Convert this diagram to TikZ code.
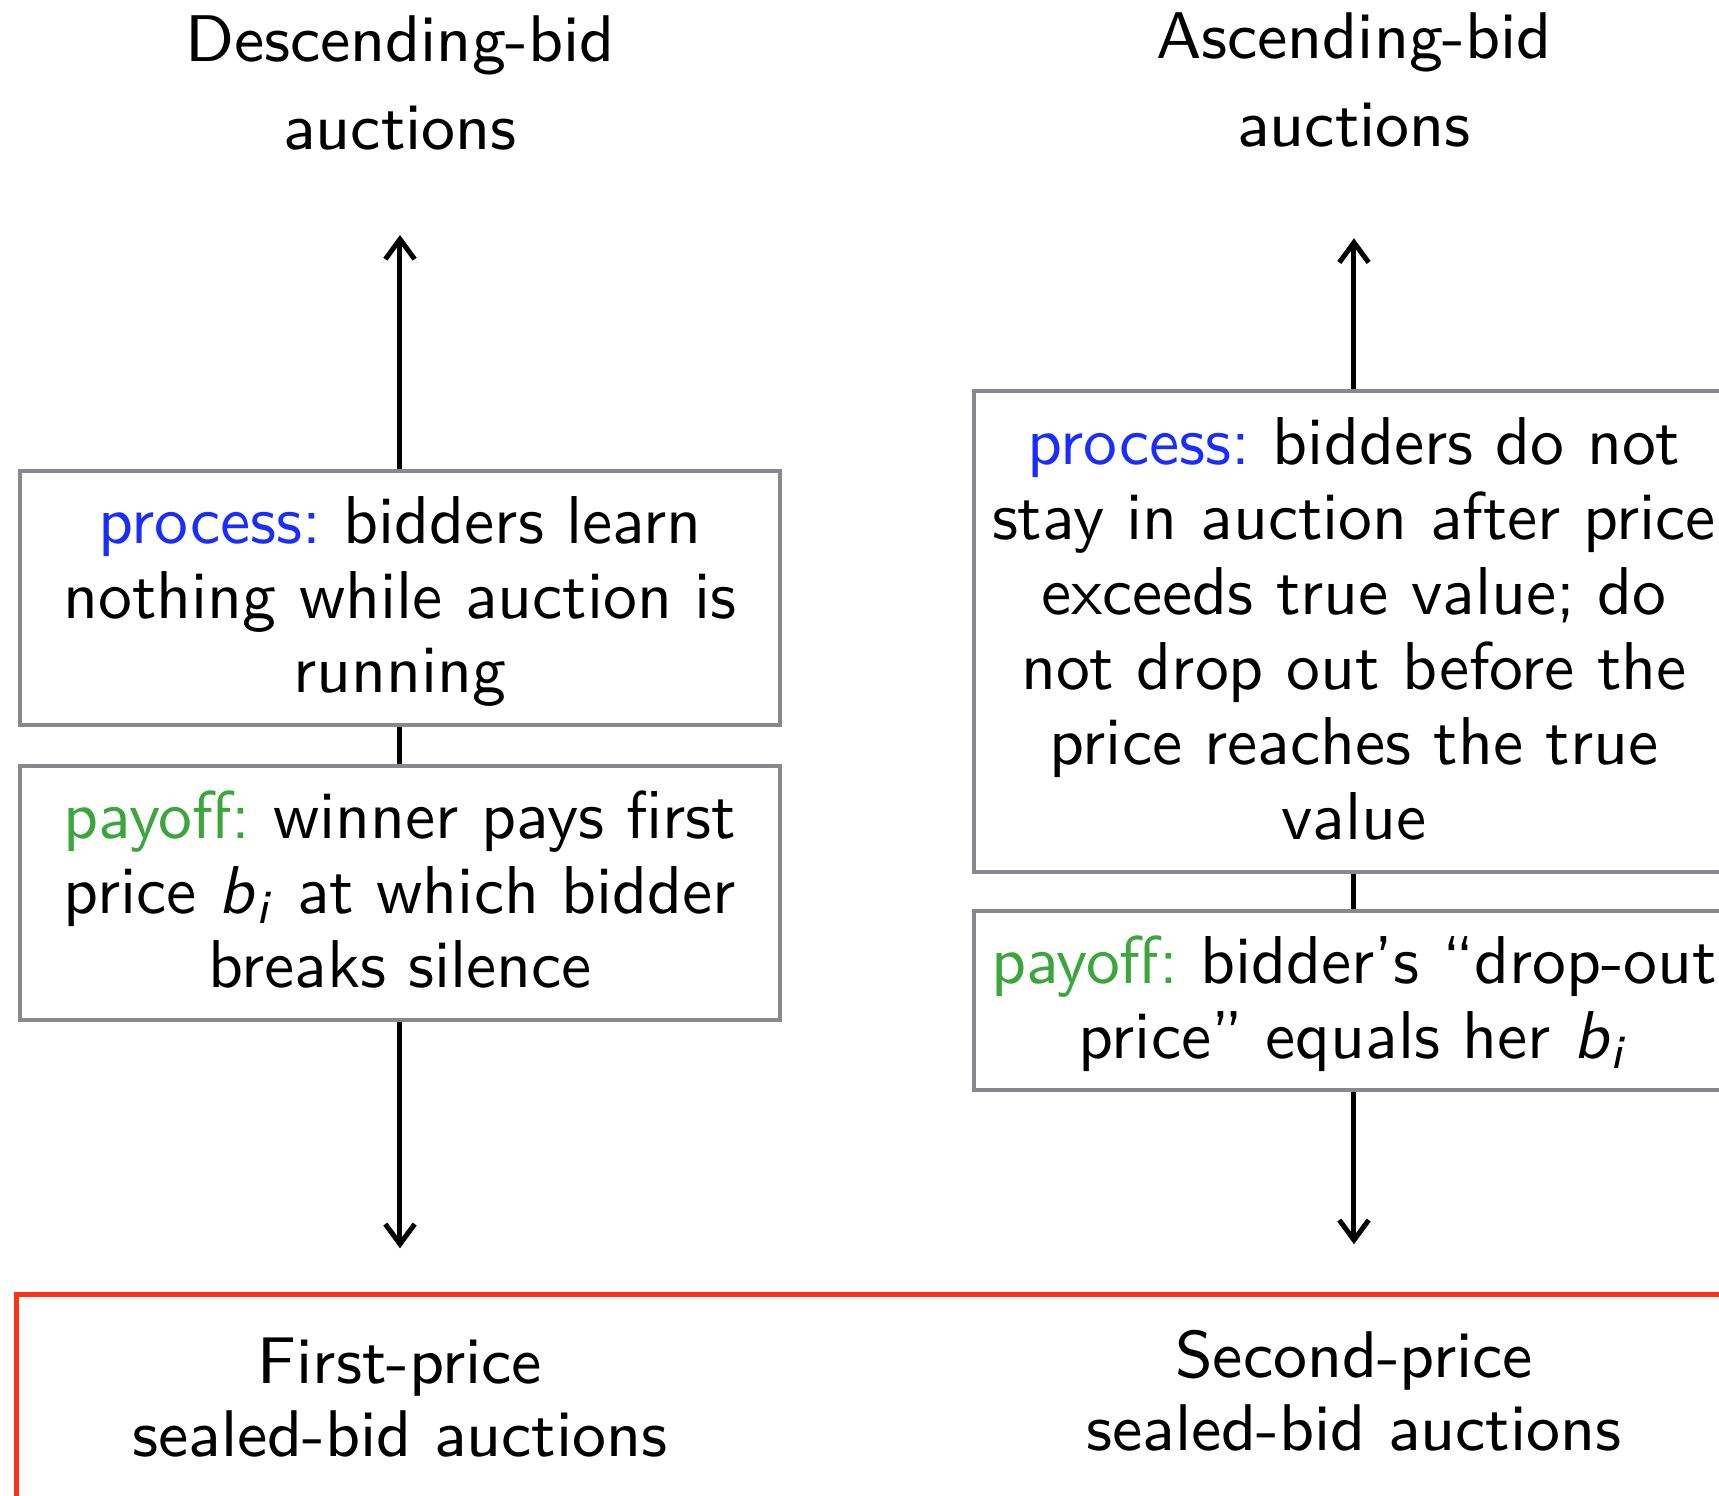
\documentclass[tikz,border=0pt]{standalone}
\usepackage{fontspec}
\usetikzlibrary{arrows.meta}

% heavier optical size for the headings
\newfontfamily\headfont{lmsans9-regular.otf}

\definecolor{boxgray}{RGB}{135,137,142}
\definecolor{procblue}{RGB}{25,45,255}
\definecolor{payoffgreen}{RGB}{60,165,60}
\definecolor{sealedred}{RGB}{255,50,20}

% struts that fix the distance from the frame to the first and last baselines
\newcommand{\firststrut}{\rule{0pt}{10.9pt}}
\newcommand{\laststrut}{\rule[-4.8pt]{0pt}{4.8pt}}
\newcommand{\headstrut}{\rule{0pt}{8pt}}
\newcommand{\bid}{\textit{b}\textsubscript{\textit{i}}}

\tikzset{
  boxnode/.style={draw=boxgray, line width=0.6pt, fill=white, align=center,
    inner xsep=0pt, inner ysep=0pt, minimum width=114pt, text=black,
    font=\sffamily\fontsize{10.15}{11.2}\selectfont\frenchspacing},
  headnode/.style={align=center, inner sep=0pt,
    font=\headfont\fontsize{9.9}{13.2}\selectfont},
  sealednode/.style={align=center, inner sep=0pt,
    font=\headfont\fontsize{9.9}{11}\selectfont},
  link/.style={line width=0.75pt},
  arrowlink/.style={line width=0.75pt, -{Straight Barb[length=3pt,width=4.4pt]}},
}

\begin{document}
\begin{tikzpicture}[x=0.15pt, y=-0.15pt]
\useasboundingbox (0,0) rectangle (1719,1496);
\clip (0,0) rectangle (1719,1496);

% sealed-bid frame running off the page
\node[draw=sealedred, line width=0.75pt, anchor=north west, inner sep=0pt,
      minimum width=270pt, minimum height=45pt] (sealed) at (14,1292.5) {};

% column titles
\node[headnode, anchor=north] (desc) at (400,6.7) {\headstrut Descending-bid\\auctions};
\node[headnode, anchor=north] (asc) at (1354,4) {\headstrut Ascending-bid\\auctions};

% descending-bid column
\node[boxnode, anchor=north] (dproc) at (400,468.7)
  {\firststrut\textcolor{procblue}{process:} bidders learn\\
   nothing while auction is\\
   running\laststrut};
\node[boxnode, anchor=north] (dpay) at (400,764)
  {\firststrut\textcolor{payoffgreen}{payoff:} winner pays first\\
   price \bid{} at which bidder\\
   breaks silence\laststrut};

% ascending-bid column
\node[boxnode, anchor=north, font=\sffamily\fontsize{10.15}{11.27}\selectfont\frenchspacing] (aproc) at (1354,389.4)
  {\firststrut\textcolor{procblue}{process:} bidders do not\\
   stay in auction after price\\
   exceeds true value; do\\
   not drop out before the\\
   price reaches the true\\
   value\laststrut};
\node[boxnode, anchor=north] (apay) at (1354,909)
  {\firststrut\textcolor{payoffgreen}{payoff:} bidder’s “drop-out\\
   price” equals her \bid\laststrut};

% sealed-bid labels
\node[sealednode, anchor=north] (fp) at (400,1328.4) {\headstrut First-price\\sealed-bid auctions};
\node[sealednode, anchor=north] (sp) at (1354,1322.7) {\headstrut Second-price\\sealed-bid auctions};

% connectors
\coordinate (dtop) at (400,235);
\coordinate (dbot) at (400,1248.3);
\coordinate (atop) at (1354,238.3);
\coordinate (abot) at (1354,1244.3);

\draw[arrowlink] (dproc.north) -- (dtop);
\draw[link] (dproc.south) -- (dpay.north);
\draw[arrowlink] (dpay.south) -- (dbot);

\draw[arrowlink] (aproc.north) -- (atop);
\draw[link] (aproc.south) -- (apay.north);
\draw[arrowlink] (apay.south) -- (abot);
\end{tikzpicture}
\end{document}
